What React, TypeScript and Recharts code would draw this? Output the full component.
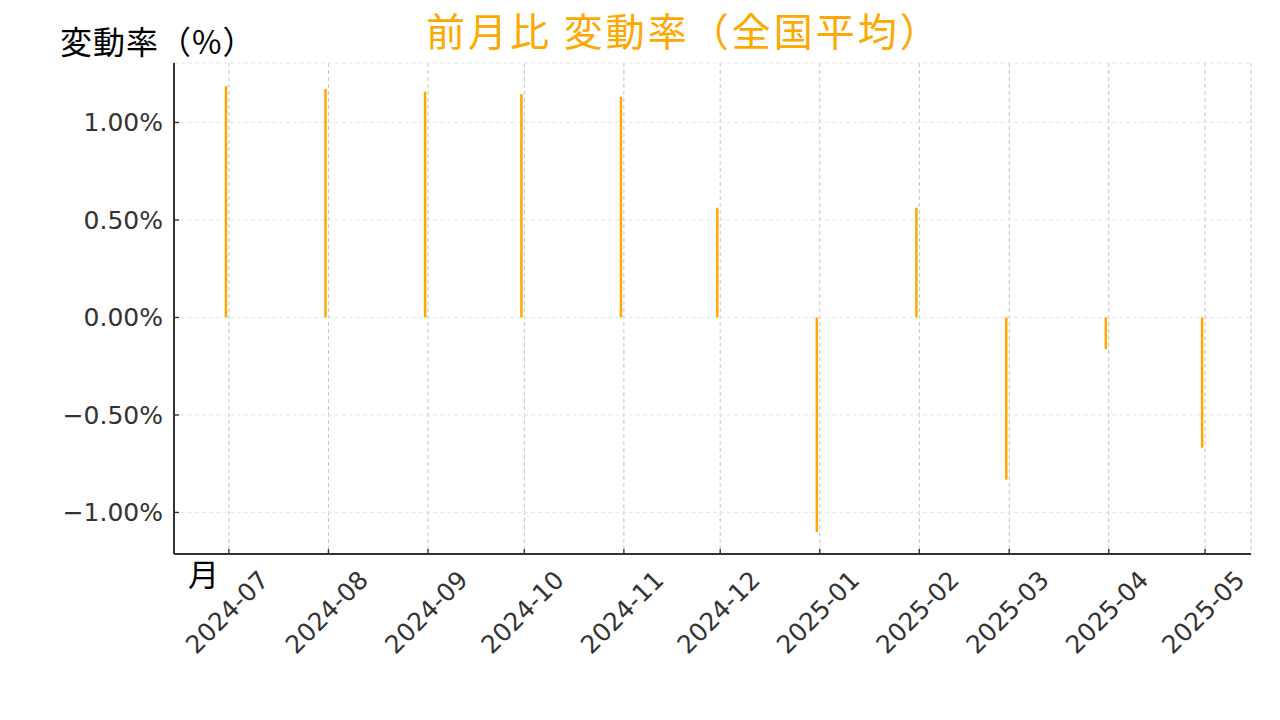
import React from 'react';
import { ComposedChart, Bar, XAxis, YAxis, CartesianGrid } from 'recharts';

// bar dates (month-end) and month-over-month change (%)
const barDates = [
  '2024-06-30', '2024-07-31', '2024-08-31', '2024-09-30', '2024-10-31', '2024-11-30',
  '2024-12-31', '2025-01-31', '2025-02-28', '2025-03-31', '2025-04-30',
];
const changeValues = [1.187, 1.172, 1.158, 1.145, 1.131, 0.563, -1.1, 0.563, -0.832, -0.162, -0.668];

const xTickLabels = [
  '2024-07', '2024-08', '2024-09', '2024-10', '2024-11', '2024-12',
  '2025-01', '2025-02', '2025-03', '2025-04', '2025-05',
];
const yTicks = [-1, -0.5, 0, 0.5, 1];

const DAY = 86400000;
const ORIGIN = Date.parse('2024-07-01');
const toDay = (s: string) => (Date.parse(s) - ORIGIN) / DAY;

const data = barDates.map((d, i) => ({ day: toDay(d), value: changeValues[i] }));
const xTicks = xTickLabels.map((m) => toDay(m + '-01'));
const labelByDay: Record<number, string> = {};
xTickLabels.forEach((m, i) => {
  labelByDay[xTicks[i]] = m;
});

const TICK_FONT = '"DejaVu Sans", sans-serif';
const CJK_FONT = '"Noto Sans CJK JP", sans-serif';
const TEXT_COLOR = '#333333';
const ORANGE = '#FFA800';

const fmtPct = (v: number) => {
  const s = Math.abs(v).toFixed(2) + '%';
  return v < 0 ? '\u2212' + s : s;
};

const YTick = (props: any) => {
  const { x, y, payload } = props;
  return (
    <g>
      <line x1={x} y1={y} x2={x + 5} y2={y} stroke="#333" strokeWidth={1.4} />
      <text
        x={x - 11}
        y={y}
        dy="0.36em"
        textAnchor="end"
        fontFamily={TICK_FONT}
        fontSize={25}
        fill={TEXT_COLOR}
      >
        {fmtPct(payload.value)}
      </text>
    </g>
  );
};

const XTick = (props: any) => {
  const { x, y, payload } = props;
  const label = labelByDay[payload.value] ?? '';
  const cy = y + 57;
  return (
    <g>
      <line x1={x} y1={y} x2={x} y2={y - 5} stroke="#333" strokeWidth={1.4} />
      <text
        x={x - 2}
        y={cy + 1}
        dy="0.36em"
        textAnchor="middle"
        transform={`rotate(-45 ${x - 2} ${cy + 1})`}
        fontFamily={TICK_FONT}
        fontSize={25}
        fill={TEXT_COLOR}
      >
        {label}
      </text>
    </g>
  );
};

export default function App() {
  return (
    <div style={{ position: 'absolute', left: 0, top: 0, width: 1280, height: 720, background: '#fff' }}>
      <ComposedChart
        width={1280}
        height={720}
        data={data}
        margin={{ top: 63, right: 29, left: 0, bottom: 0 }}
      >
        <CartesianGrid
          horizontal={false}
          vertical={true}
          stroke="#c4c4c4"
          strokeDasharray="4 3"
          strokeWidth={1}
        />
        <CartesianGrid
          horizontal={true}
          vertical={false}
          stroke="#e6e6e6"
          strokeDasharray="4 3"
          strokeWidth={1}
        />
        <XAxis
          dataKey="day"
          type="number"
          domain={[-17.1, 318.3]}
          allowDataOverflow
          ticks={xTicks}
          interval={0}
          height={166}
          tickSize={0}
          tickMargin={0}
          tickLine={false}
          axisLine={{ stroke: '#333', strokeWidth: 2 }}
          tick={<XTick />}
        />
        <YAxis
          type="number"
          domain={[-1.213, 1.305]}
          allowDataOverflow
          ticks={yTicks}
          interval={0}
          width={174}
          tickSize={0}
          tickMargin={0}
          tickLine={false}
          axisLine={{ stroke: '#333', strokeWidth: 2 }}
          tick={<YTick />}
        />
        <Bar dataKey="value" fill={ORANGE} barSize={2.5} isAnimationActive={false} />
      </ComposedChart>
      <svg
        width={1280}
        height={720}
        style={{ position: 'absolute', left: 0, top: 0, pointerEvents: 'none' }}
      >
        <text x={426} y={46} fontFamily={CJK_FONT} fontSize={39} letterSpacing={3} fill={ORANGE}>
          前月比 変動率（全国平均）
        </text>
        <text x={60} y={54} fontFamily={CJK_FONT} fontSize={32} letterSpacing={1} fill="#000">
          変動率（%）
        </text>
        <text x={188} y={586} fontFamily={CJK_FONT} fontSize={31} fill="#000">
          月
        </text>
      </svg>
    </div>
  );
}
